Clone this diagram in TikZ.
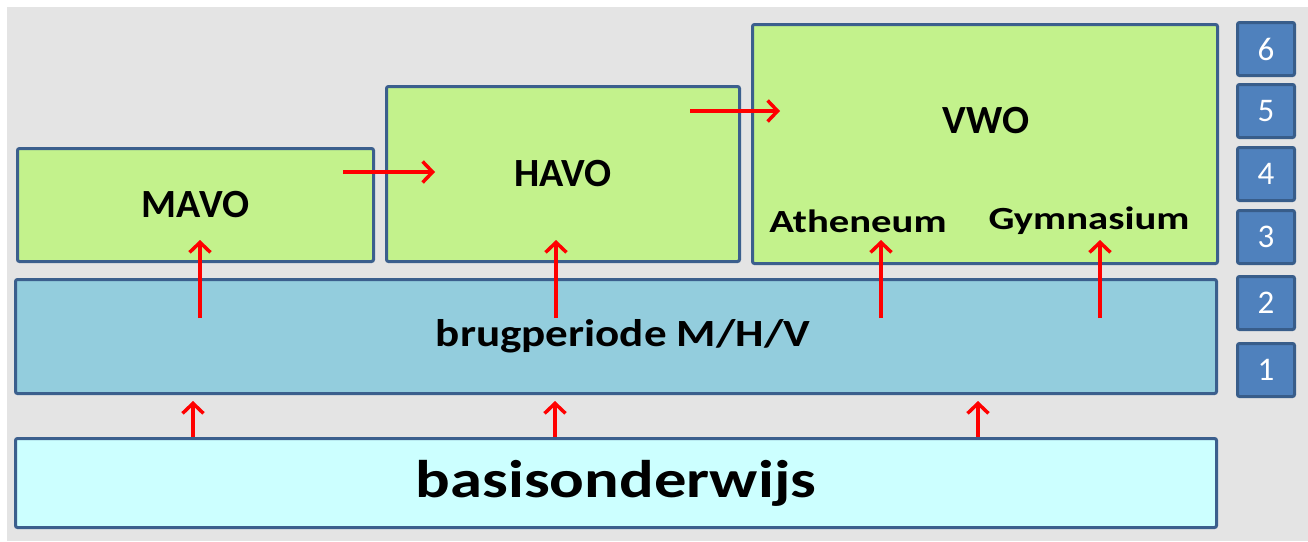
\documentclass[tikz,border=0pt]{standalone}
\usepackage{fontspec}
\usepackage{graphicx}
\setmainfont{Carlito}
\usetikzlibrary{arrows.meta,positioning}
\definecolor{bggray}{HTML}{E4E4E4}
\definecolor{schoolgreen}{HTML}{C3F28C}
\definecolor{brugblue}{HTML}{93CDDD}
\definecolor{basiscyan}{HTML}{CCFFFF}
\definecolor{edgeblue}{HTML}{3B5F8D}
\definecolor{yearfill}{HTML}{4F81BD}
\definecolor{yearedge}{HTML}{385D8A}
\newcommand{\wide}[2]{\scalebox{#1}[1]{#2}}

\begin{document}
\begin{tikzpicture}[
    x=1pt,y=-1pt,
    level/.style={draw=edgeblue,line width=3pt,rounded corners=2pt,inner sep=0pt,font=\bfseries\fontsize{40}{42}\selectfont},
    yearbox/.style={draw=yearedge,fill=yearfill,line width=3pt,rounded corners=2pt,minimum width=57pt,minimum height=53pt,inner sep=0pt,text=white,font=\fontsize{33}{35}\selectfont},
    lbl/.style={inner sep=0pt,font=\bfseries\fontsize{40}{42}\selectfont},
    stream/.style={inner sep=0pt,font=\bfseries\fontsize{32.3}{34}\selectfont},
    arrow/.style={-{Straight Barb[length=10pt,width=21pt]},red,line width=3.5pt}
  ]
    \useasboundingbox (0,0) rectangle (1308,541);
    \fill[bggray] (7,7) rectangle (1308,541);
    % schooltypes
    \node[level,fill=schoolgreen,minimum width=356pt,minimum height=113pt] (mavo) at (195.5,205) {MAVO};
    \node[level,fill=schoolgreen,minimum width=353pt,minimum height=175pt] (havo) at (563,174) {HAVO};
    \node[level,fill=schoolgreen,minimum width=465pt,minimum height=239pt] (vwo) at (985,144) {};
    \node[lbl] (vwotitle) at (986,121) {VWO};
    \node[stream] (ath) at (858,221) {\wide{1.26}{Atheneum}};
    \node[stream] (gym) at (1089,221) {\wide{1.26}{Gymnasium}};
    \node[level,fill=brugblue,minimum width=1201pt,minimum height=114pt,font=\bfseries\fontsize{38.5}{40}\selectfont] (brug) at (616,336.5) {\hspace*{14pt}\wide{1.17}{brugperiode M/H/V}};
    \node[level,fill=basiscyan,minimum width=1201pt,minimum height=89pt,font=\bfseries\fontsize{53}{55}\selectfont] (basis) at (616,483) {\wide{1.22}{basisonderwijs}};
    % leerjaren
    \foreach \n/\y in {6/49,5/111,4/174,3/237,2/303,1/370}
      \node[yearbox] (jaar\n) at (1266,\y) {\n};
    % doorstroom
    \coordinate (c1) at (200,0);
    \coordinate (c2) at (556,0);
    \coordinate (c3) at (881,0);
    \coordinate (c4) at (1100,0);
    \coordinate (b1) at (193,0);
    \coordinate (b2) at (555,0);
    \coordinate (b3) at (978,0);
    \draw[arrow] ([yshift=-40pt]brug.north -| c1) -- ([yshift=23pt]mavo.south -| c1);
    \draw[arrow] ([yshift=-40pt]brug.north -| c2) -- ([yshift=23pt]havo.south -| c2);
    \draw[arrow] ([yshift=-40pt]brug.north -| c3) -- ([yshift=25pt]vwo.south -| c3);
    \draw[arrow] ([yshift=-40pt]brug.north -| c4) -- ([yshift=25pt]vwo.south -| c4);
    \draw[arrow] (basis.north -| b1) -- ([yshift=-6pt]brug.south -| b1);
    \draw[arrow] (basis.north -| b2) -- ([yshift=-6pt]brug.south -| b2);
    \draw[arrow] (basis.north -| b3) -- ([yshift=-6pt]brug.south -| b3);
    \draw[arrow] ([xshift=-32pt,yshift=33pt]mavo.east) -- ([xshift=50pt,yshift=2pt]havo.west);
    \draw[arrow] ([xshift=-51pt,yshift=63pt]havo.east) -- ([xshift=29pt,yshift=33pt]vwo.west);
  \end{tikzpicture}
\end{document}
